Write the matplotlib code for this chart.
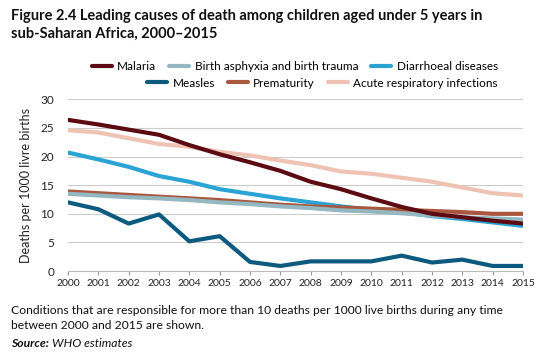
import matplotlib
matplotlib.use("Agg")
import matplotlib.pyplot as plt
from matplotlib.lines import Line2D

plt.rcParams['font.family'] = ['Lato', 'DejaVu Sans']

years = list(range(2000, 2016))
malaria = [26.4, 25.6, 24.7, 23.8, 22.0, 20.4, 19.0, 17.5, 15.6, 14.3, 12.7, 11.2, 10.0, 9.4, 8.8, 8.3]
birth_asphyxia = [13.5, 13.2, 12.9, 12.7, 12.4, 12.0, 11.7, 11.3, 11.0, 10.6, 10.4, 10.1, 9.7, 9.4, 9.2, 9.0]
diarrhoeal = [20.7, 19.5, 18.2, 16.6, 15.6, 14.3, 13.5, 12.7, 12.0, 11.3, 10.7, 10.3, 9.6, 9.1, 8.5, 7.9]
measles = [12.0, 10.8, 8.3, 9.9, 5.2, 6.1, 1.6, 0.9, 1.7, 1.7, 1.7, 2.7, 1.5, 2.0, 0.9, 0.9]
prematurity = [13.9, 13.6, 13.3, 13.0, 12.7, 12.4, 12.0, 11.6, 11.3, 11.1, 10.9, 10.7, 10.5, 10.3, 10.0, 10.0]
ari = [24.6, 24.2, 23.2, 22.2, 21.7, 20.8, 20.2, 19.3, 18.5, 17.4, 17.0, 16.3, 15.6, 14.6, 13.6, 13.2]

names = ["Malaria", "Birth asphyxia and birth trauma", "Diarrhoeal diseases",
         "Measles", "Prematurity", "Acute respiratory infections"]
colors = ["#5c0b12", "#93b8c2", "#2aa3d5", "#0d5a7f", "#a9583f", "#efc3b4"]
series = [malaria, birth_asphyxia, diarrhoeal, measles, prematurity, ari]

fig = plt.figure(figsize=(5.5, 3.61), dpi=100)
ax = fig.add_axes([0.1236, 0.249, 0.8274, 0.476])

draw_order = [5, 2, 4, 1, 0, 3]
for i in draw_order:
    ax.plot(years, series[i], color=colors[i], lw=3.0, solid_capstyle='round', zorder=3)

ax.set_xlim(2000, 2015)
ax.set_ylim(0, 30)
ax.set_yticks([0, 5, 10, 15, 20, 25, 30])
ax.set_xticks(years)
ax.tick_params(axis='x', labelsize=7.5, length=3, color='#999999', pad=3, labelcolor='#222222')
ax.tick_params(axis='y', labelsize=8.5, length=0, pad=10, labelcolor='#222222')
ax.grid(axis='y', color='#cccccc', lw=0.8, zorder=0)
for s in ['top', 'right', 'left']:
    ax.spines[s].set_visible(False)
ax.spines['bottom'].set_color('#bbbbbb')
ax.spines['bottom'].set_linewidth(0.8)
ax.set_ylabel("Deaths per 1000 livre births", fontsize=9, color='#222222', labelpad=6)

def handles(idx):
    return [Line2D([0], [0], color=colors[i], lw=3.0, solid_capstyle='round') for i in idx]

leg_kw = dict(loc='upper right', ncol=3, frameon=False, fontsize=8.5,
              handlelength=1.7, handletextpad=0.45, columnspacing=1.1,
              borderpad=0, borderaxespad=0)
fig.legend(handles([0, 1, 2]), [names[i] for i in [0, 1, 2]],
           bbox_to_anchor=(0.905, 0.83), **leg_kw)
fig.legend(handles([3, 4, 5]), [names[i] for i in [3, 4, 5]],
           bbox_to_anchor=(0.905, 0.785), **leg_kw)

fig.text(0.02, 0.975, "Figure 2.4 Leading causes of death among children aged under 5 years in\nsub-Saharan Africa, 2000\u20132015",
         fontsize=10.5, fontweight='bold', va='top', ha='left', linespacing=1.35, color='#111111')

fig.text(0.02, 0.155, "Conditions that are responsible for more than 10 deaths per 1000 live births during any time\nbetween 2000 and 2015 are shown.",
         fontsize=8.7, va='top', ha='left', linespacing=1.4, color='#111111')
fig.text(0.02, 0.063, "Source:", fontsize=8.7, fontweight='bold', style='italic', va='top', ha='left', color='#111111')
fig.text(0.094, 0.063, "WHO estimates", fontsize=8.7, style='italic', va='top', ha='left', color='#111111')

fig.savefig("out.png", dpi=100)
